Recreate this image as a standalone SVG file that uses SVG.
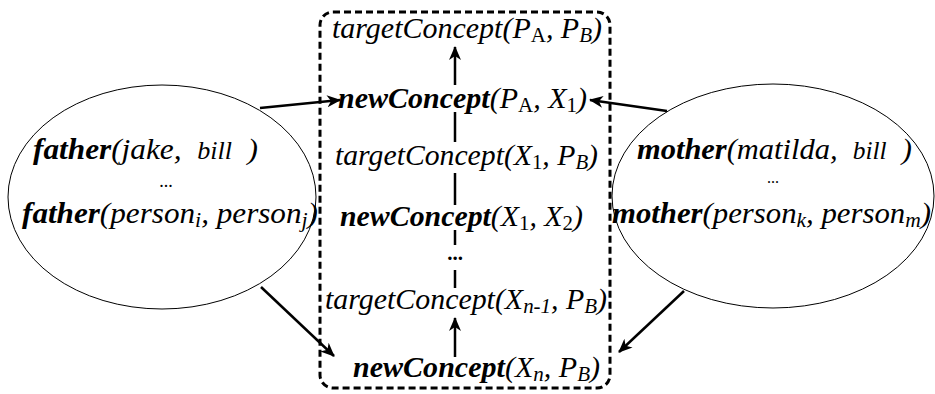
<svg xmlns="http://www.w3.org/2000/svg" width="935" height="394" viewBox="0 0 935 394">
<defs>
<style>
text{font-family:"Liberation Serif",serif}
.t{font-size:30px;font-style:italic;fill:#000}
.b{font-weight:bold}
.u{font-style:normal}
.s{font-size:21px}
.sm{font-size:25px}
.dots{font-size:18px;fill:#000}
.ell{fill:#fff;stroke:#000;stroke-width:1}
.ln{stroke:#000;stroke-width:2.5;fill:none}
.box{fill:none;stroke:#000;stroke-width:3;stroke-dasharray:7,4}
</style>
<marker id="ah" markerUnits="userSpaceOnUse" viewBox="0 0 14 12" refX="13" refY="6" markerWidth="14" markerHeight="12" orient="auto">
<path d="M0,0 L14,6 L0,12 L4,6 z" fill="#000"/>
</marker>
</defs>
<rect width="935" height="394" fill="#fff"/>

<g id="left-set">
<ellipse class="ell" cx="162" cy="197" rx="154" ry="112"/>
<text class="t" x="33" y="159" textLength="225" lengthAdjust="spacingAndGlyphs" xml:space="preserve"><tspan class="b">father</tspan>(jake,  <tspan class="sm">bill</tspan>  )</text>
<text class="dots" x="166" y="187" text-anchor="middle">...</text>
<text class="t" x="22" y="223" textLength="296" lengthAdjust="spacingAndGlyphs"><tspan class="b">father</tspan>(person<tspan class="s" dy="4">i</tspan><tspan dy="-4">, person</tspan><tspan class="s" dy="4">j</tspan><tspan dy="-4">)</tspan></text>
</g>

<g id="right-set">
<ellipse class="ell" cx="773" cy="196" rx="161" ry="112"/>
<text class="t" x="637" y="159" textLength="275" lengthAdjust="spacingAndGlyphs" xml:space="preserve"><tspan class="b">mother</tspan>(matilda,  <tspan class="sm">bill</tspan>  )</text>
<text class="dots" x="773" y="183" text-anchor="middle" style="font-size:16px">...</text>
<text class="t" x="612" y="223" textLength="319" lengthAdjust="spacingAndGlyphs"><tspan class="b">mother</tspan>(person<tspan class="s" dy="4">k</tspan><tspan dy="-4">, person</tspan><tspan class="s" dy="4">m</tspan><tspan dy="-4">)</tspan></text>
</g>

<g id="chain">
<rect class="box" x="320" y="12" width="290" height="376" rx="13"/>
<g id="t1"><text class="t" x="332" y="38" textLength="270" lengthAdjust="spacingAndGlyphs">targetConcept(P<tspan class="s u" dy="4">A</tspan><tspan dy="-4">, P</tspan><tspan class="s" dy="4">B</tspan><tspan dy="-4">)</tspan></text></g>
<g id="n1"><text class="t" x="338" y="108" textLength="249" lengthAdjust="spacingAndGlyphs"><tspan class="b">newConcept</tspan>(P<tspan class="s u" dy="4">A</tspan><tspan dy="-4">, X</tspan><tspan class="s u" dy="4">1</tspan><tspan dy="-4">)</tspan></text></g>
<g id="t2"><text class="t" x="335" y="165" textLength="263" lengthAdjust="spacingAndGlyphs">targetConcept(X<tspan class="s u" dy="4">1</tspan><tspan dy="-4">, P</tspan><tspan class="s" dy="4">B</tspan><tspan dy="-4">)</tspan></text></g>
<g id="n2"><text class="t" x="340" y="226" textLength="243" lengthAdjust="spacingAndGlyphs"><tspan class="b">newConcept</tspan>(X<tspan class="s u" dy="4">1</tspan><tspan dy="-4">, X</tspan><tspan class="s u" dy="4">2</tspan><tspan dy="-4">)</tspan></text></g>
<text class="dots" x="455" y="260" text-anchor="middle" style="font-weight:bold;font-size:21px">...</text>
<g id="t3"><text class="t" x="325" y="309" textLength="282" lengthAdjust="spacingAndGlyphs">targetConcept(X<tspan class="s" dy="4">n-1</tspan><tspan dy="-4">, P</tspan><tspan class="s" dy="4">B</tspan><tspan dy="-4">)</tspan></text></g>
<g id="n3"><text class="t" x="353" y="377" textLength="247" lengthAdjust="spacingAndGlyphs"><tspan class="b">newConcept</tspan>(X<tspan class="s" dy="4">n</tspan><tspan dy="-4">, P</tspan><tspan class="s" dy="4">B</tspan><tspan dy="-4">)</tspan></text></g>
</g>

<g id="connectors">
<line class="ln" x1="455" y1="85" x2="455" y2="47" marker-end="url(#ah)"/>
<line class="ln" x1="455" y1="112" x2="455" y2="142"/>
<line class="ln" x1="455" y1="173" x2="455" y2="205"/>
<line class="ln" x1="455" y1="230" x2="455" y2="245"/>
<line class="ln" x1="455" y1="270" x2="455" y2="288"/>
<line class="ln" x1="455" y1="357" x2="455" y2="318" marker-end="url(#ah)"/>
<line class="ln" x1="260" y1="108" x2="340" y2="100" marker-end="url(#ah)"/>
<line class="ln" x1="667" y1="111" x2="590" y2="100" marker-end="url(#ah)"/>
<line class="ln" x1="261" y1="287" x2="334" y2="356" marker-end="url(#ah)"/>
<line class="ln" x1="684" y1="291" x2="619" y2="352" marker-end="url(#ah)"/>
</g>
</svg>
